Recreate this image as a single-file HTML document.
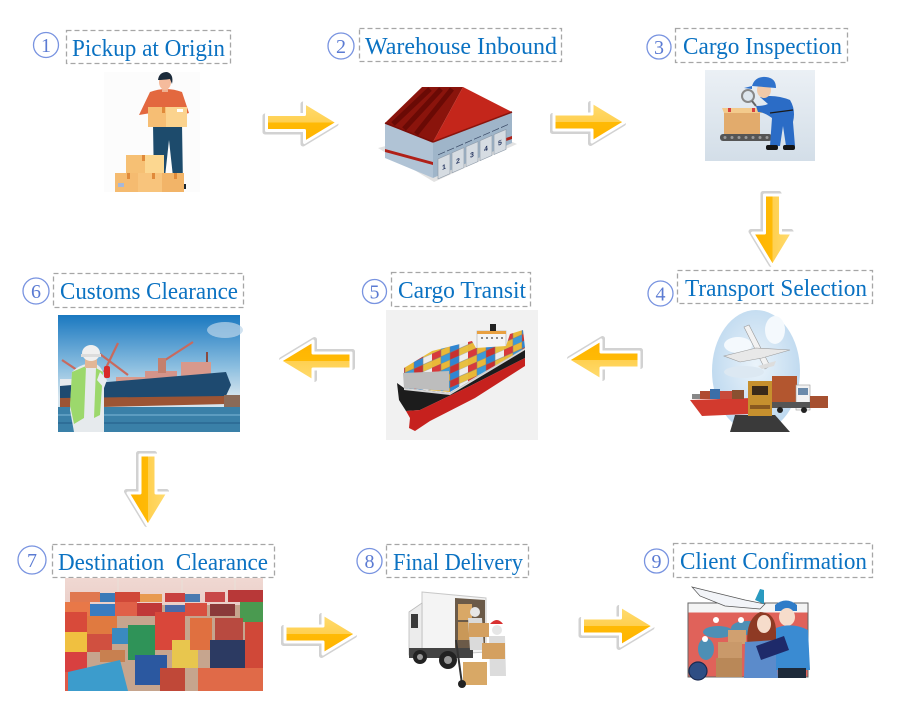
<!DOCTYPE html>
<html><head><meta charset="utf-8"><style>
html,body{margin:0;padding:0;background:#fff;}
svg{display:block;}
.t{font-family:"Liberation Serif",serif;font-size:24px;fill:#0B72C2;}
.n{font-family:"Liberation Serif",serif;font-size:20px;fill:#5B7BD3;text-anchor:middle;}
.c{fill:none;stroke:#7893E0;stroke-width:1.3;}
.b{fill:none;stroke:#A6A6A6;stroke-width:1.3;stroke-dasharray:5 3;}
.dn{font-family:"Liberation Sans",sans-serif;font-size:7px;font-weight:bold;fill:#1E2E5A;text-anchor:middle;}
</style></head><body>
<svg width="900" height="709" viewBox="0 0 900 709" xmlns="http://www.w3.org/2000/svg">
<defs>
<linearGradient id="ag" x1="0" y1="0" x2="0" y2="1">
<stop offset="0" stop-color="#FFDC72"/><stop offset="0.5" stop-color="#FFD050"/><stop offset="0.5" stop-color="#FFBA05"/><stop offset="1" stop-color="#FFB300"/>
</linearGradient>
<linearGradient id="insp" x1="0" y1="0" x2="0" y2="1"><stop offset="0" stop-color="#EBF0F5"/><stop offset="1" stop-color="#D3DEE8"/></linearGradient>
<linearGradient id="sky6" x1="0" y1="0" x2="0" y2="1"><stop offset="0" stop-color="#1A78C0"/><stop offset="0.45" stop-color="#8DBFE0"/><stop offset="0.7" stop-color="#D6E5EE"/></linearGradient>
<linearGradient id="sky7" x1="0" y1="0" x2="0" y2="1"><stop offset="0" stop-color="#F0D8D2"/><stop offset="1" stop-color="#D8B2AC"/></linearGradient>
<radialGradient id="globe" cx="0.5" cy="0.45" r="0.6"><stop offset="0" stop-color="#EAF3FA"/><stop offset="1" stop-color="#B9D6EE"/></radialGradient>
<pattern id="cont" width="36" height="14" patternUnits="userSpaceOnUse" patternTransform="skewY(-24)">
<rect x="0" y="0" width="9" height="7" fill="#D8393B"/><rect x="9" y="0" width="9" height="7" fill="#E9B838"/><rect x="18" y="0" width="9" height="7" fill="#2F86D2"/><rect x="27" y="0" width="9" height="7" fill="#EDEDED"/>
<rect x="0" y="7" width="9" height="7" fill="#E9B838"/><rect x="9" y="7" width="9" height="7" fill="#3B9AD8"/><rect x="18" y="7" width="9" height="7" fill="#C83030"/><rect x="27" y="7" width="9" height="7" fill="#E8C040"/>
<path d="M0,0 H36 M0,7 H36 M9,0 V14 M18,0 V14 M27,0 V14" stroke="#7A7A7A" stroke-width="0.5"/>
</pattern>
<g id="arr">
<path d="M-35,-8 L3,-8 L3,-20 L36,0 L3,20 L3,8 L-35,8 Z" fill="#D2D2D2" stroke="#D2D2D2" stroke-width="5" stroke-linejoin="round" transform="translate(-1.5,1.5)"/>
<path d="M-35,-8 L3,-8 L3,-20 L36,0 L3,20 L3,8 L-35,8 Z" fill="url(#ag)" stroke="#fff" stroke-width="3" stroke-linejoin="round"/>
</g>
</defs>
<rect width="900" height="709" fill="#fff"/>

<!-- ===== Titles ===== -->
<circle class="c" cx="46" cy="45" r="12.5"/><text class="n" x="46" y="52">1</text>
<rect class="b" x="66.5" y="30.5" width="164" height="33"/>
<text class="t" x="72" y="56" textLength="153" lengthAdjust="spacingAndGlyphs">Pickup at Origin</text>

<circle class="c" cx="341" cy="46" r="13"/><text class="n" x="341" y="53">2</text>
<rect class="b" x="359.5" y="28.5" width="202" height="33"/>
<text class="t" x="365" y="54" textLength="192" lengthAdjust="spacingAndGlyphs">Warehouse Inbound</text>

<circle class="c" cx="659" cy="47" r="12"/><text class="n" x="659" y="54">3</text>
<rect class="b" x="675.5" y="28.5" width="172" height="34"/>
<text class="t" x="683" y="54" textLength="159" lengthAdjust="spacingAndGlyphs">Cargo Inspection</text>

<circle class="c" cx="660.5" cy="293.5" r="12.5"/><text class="n" x="660.5" y="300.5">4</text>
<rect class="b" x="677.5" y="270.5" width="195" height="33"/>
<text class="t" x="685" y="296" textLength="182" lengthAdjust="spacingAndGlyphs">Transport Selection</text>

<circle class="c" cx="374.5" cy="291.5" r="12"/><text class="n" x="374.5" y="298.5">5</text>
<rect class="b" x="391.5" y="272.5" width="139" height="34"/>
<text class="t" x="398" y="298" textLength="128" lengthAdjust="spacingAndGlyphs">Cargo Transit</text>

<circle class="c" cx="36" cy="291" r="13"/><text class="n" x="36" y="298">6</text>
<rect class="b" x="53.5" y="273.5" width="190" height="34"/>
<text class="t" x="60" y="299" textLength="178" lengthAdjust="spacingAndGlyphs">Customs Clearance</text>

<circle class="c" cx="32" cy="560" r="14"/><text class="n" x="32" y="567">7</text>
<rect class="b" x="52.5" y="544.5" width="222" height="33"/>
<text class="t" x="58" y="570" textLength="210" lengthAdjust="spacingAndGlyphs" xml:space="preserve">Destination  Clearance</text>

<circle class="c" cx="369.5" cy="561" r="12.5"/><text class="n" x="369.5" y="568">8</text>
<rect class="b" x="386.5" y="544.5" width="142" height="33"/>
<text class="t" x="393" y="570" textLength="130" lengthAdjust="spacingAndGlyphs">Final Delivery</text>

<circle class="c" cx="656.5" cy="561" r="12"/><text class="n" x="656.5" y="568">9</text>
<rect class="b" x="673.5" y="543.5" width="199" height="34"/>
<text class="t" x="680" y="569" textLength="187" lengthAdjust="spacingAndGlyphs">Client Confirmation</text>

<!-- ===== Arrows ===== -->
<use href="#arr" transform="translate(301.5,122.5)"/>
<use href="#arr" transform="translate(589,122)"/>
<use href="#arr" transform="translate(772.5,230) rotate(90)"/>
<use href="#arr" transform="translate(604,360) rotate(180)"/>
<use href="#arr" transform="translate(316,361) rotate(180)"/>
<use href="#arr" transform="translate(148,490) rotate(90)"/>
<use href="#arr" transform="translate(320,634)"/>
<use href="#arr" transform="translate(617.5,626)"/>

<!-- ===== 1 Pickup image ===== -->
<g>
<rect x="104" y="72" width="96" height="120" fill="#FCFCFC"/>
<path d="M153,124 L182,124 L183,186 L174,186 L169,140 L164,186 L154,186 Z" fill="#1D4B6C"/>
<path d="M173,184 L186,184 L186,189 L173,189 Z" fill="#1A2630"/>
<path d="M150,92 Q166,86 182,92 L189,113 L182,115 L181,127 L152,127 L151,113 L139,115 Z" fill="#E3683F"/>
<rect x="162" y="86" width="6" height="6" fill="#EFAF90"/>
<ellipse cx="165" cy="82" rx="6" ry="8" fill="#F5BB9C"/>
<path d="M158,80 Q159,72 167,72 Q174,74 172,84 L170,79 Q163,80 158,80Z" fill="#1C2B3B"/>
<rect x="148" y="107" width="39" height="20" fill="#F6BE74"/>
<rect x="166" y="107" width="21" height="20" fill="#FBD38E"/>
<rect x="162" y="107" width="3" height="6" fill="#E08A3A"/>
<rect x="177" y="109" width="6" height="3" fill="#fff"/>
<rect x="126" y="155" width="38" height="18" fill="#F6C074"/>
<rect x="145" y="155" width="19" height="18" fill="#FCD790"/>
<rect x="142" y="155" width="3" height="6" fill="#E08A3A"/>
<rect x="115" y="173" width="23" height="19" fill="#F5BB70"/>
<rect x="138" y="173" width="24" height="19" fill="#F8C47C"/>
<rect x="162" y="173" width="22" height="19" fill="#F2B468"/>
<rect x="127" y="173" width="3" height="6" fill="#E08A3A"/>
<rect x="152" y="173" width="3" height="6" fill="#E08A3A"/>
<rect x="174" y="173" width="3" height="6" fill="#E08A3A"/>
<rect x="118" y="183" width="6" height="4" fill="#A8B8D8"/>
</g>

<!-- ===== 2 Warehouse ===== -->
<g>
<polygon points="378,148 434,182 517,144 470,124" fill="#E2E2E2"/>
<polygon points="385,123 433,142 433,178 385,158" fill="#B0C3D5"/>
<polygon points="433,142 512,111 512,143 433,178" fill="#9FB5C9"/>
<polygon points="385,149 433,162 433,165 385,152" fill="#B02018"/>
<polygon points="500,140 512,136 512,139 500,143" fill="#B02018"/>
<g transform="matrix(1,-0.434,0,1,0,0)">
<rect x="438" y="349" width="12" height="20" fill="#D6DCE2" stroke="#8C98A6" stroke-width="0.6"/>
<rect x="452" y="349" width="12" height="20" fill="#D6DCE2" stroke="#8C98A6" stroke-width="0.6"/>
<rect x="466" y="349" width="12" height="20" fill="#D6DCE2" stroke="#8C98A6" stroke-width="0.6"/>
<rect x="480" y="349" width="12" height="20" fill="#D6DCE2" stroke="#8C98A6" stroke-width="0.6"/>
<rect x="494" y="349" width="12" height="20" fill="#D6DCE2" stroke="#8C98A6" stroke-width="0.6"/>
<text class="dn" x="444" y="362">1</text><text class="dn" x="458" y="362">2</text><text class="dn" x="472" y="362">3</text><text class="dn" x="486" y="362">4</text><text class="dn" x="500" y="362">5</text>
<line x1="438" y1="345" x2="508" y2="345" stroke="#3A4A66" stroke-width="0.8" stroke-dasharray="7 2"/>
</g>
<polygon points="422,87 463,87 433,142 385,123" fill="#8A140C"/>
<g stroke="#6A0A05" stroke-width="5">
<line x1="430" y1="89" x2="393" y2="124"/>
<line x1="441" y1="89" x2="404" y2="129"/>
<line x1="452" y1="89" x2="416" y2="134"/>
</g>
<polygon points="463,87 512,112 433,142" fill="#C4261B"/>
<line x1="385" y1="123" x2="433" y2="142" stroke="#7A0E08" stroke-width="1.5"/>
<line x1="433" y1="142" x2="512" y2="112" stroke="#8A140C" stroke-width="1.5"/>
</g>

<!-- ===== 3 Inspection ===== -->
<g>
<rect x="705" y="70" width="110" height="91" fill="url(#insp)"/>
<rect x="720" y="134" width="52" height="7" rx="3" fill="#555"/>
<g fill="#999"><circle cx="725" cy="137.5" r="1.5"/><circle cx="732" cy="137.5" r="1.5"/><circle cx="739" cy="137.5" r="1.5"/><circle cx="746" cy="137.5" r="1.5"/><circle cx="753" cy="137.5" r="1.5"/><circle cx="760" cy="137.5" r="1.5"/><circle cx="767" cy="137.5" r="1.5"/></g>
<rect x="724" y="112" width="36" height="22" fill="#E2AB6C"/>
<polygon points="722,108 760,108 762,113 724,113" fill="#F3CA8C"/>
<rect x="728" y="108" width="3" height="4" fill="#D84040"/><rect x="752" y="108" width="3" height="4" fill="#D84040"/>
<path d="M760,97 Q775,94 790,100 Q796,110 793,122 L795,146 L786,146 L783,126 L780,146 L770,146 L772,118 Q764,112 758,112 L756,106 Q764,106 768,104 Z" fill="#2B6CC6"/>
<rect x="766" y="145" width="12" height="5" rx="2" fill="#151515"/><rect x="783" y="145" width="12" height="5" rx="2" fill="#151515"/>
<line x1="770" y1="113" x2="793" y2="110" stroke="#1A1A1A" stroke-width="1.2"/>
<ellipse cx="764" cy="90" rx="7" ry="8" fill="#F1C9A8"/>
<path d="M752,86 Q755,76 766,77 Q776,78 776,88 Z" fill="#2F72CC"/>
<path d="M752,86 L744,88 L752,89 Z" fill="#2F72CC"/>
<circle cx="748" cy="96" r="6" fill="#DDE6EE" stroke="#888" stroke-width="2"/>
<line x1="752" y1="101" x2="756" y2="106" stroke="#666" stroke-width="2"/>
</g>

<!-- ===== 4 Transport Selection ===== -->
<g>
<ellipse cx="756" cy="371" rx="44" ry="61" fill="url(#globe)"/>
<ellipse cx="738" cy="345" rx="14" ry="8" fill="#F4F9FD"/>
<ellipse cx="775" cy="330" rx="10" ry="14" fill="#F4F9FD"/>
<ellipse cx="744" cy="372" rx="20" ry="6" fill="#DCE8F2"/>
<polygon points="744,327 749,325 770,366 765,369" fill="#F2F2F2" stroke="#9A9A9A" stroke-width="0.6"/>
<polygon points="724,356 756,348 790,350 762,358 740,362" fill="#E8E8E8" stroke="#9A9A9A" stroke-width="0.6"/>
<polygon points="758,366 776,361 774,366 762,369" fill="#DDD"/>
<polygon points="735,415 775,415 790,432 730,432" fill="#3A3A3A"/>
<polygon points="690,400 752,398 748,414 702,416" fill="#D23A2E"/>
<rect x="700" y="391" width="10" height="8" fill="#B04A30"/><rect x="710" y="389" width="10" height="10" fill="#3A6EA8"/><rect x="720" y="391" width="12" height="8" fill="#C84A3A"/><rect x="732" y="390" width="12" height="9" fill="#8A5030"/>
<rect x="692" y="394" width="8" height="5" fill="#888"/>
<rect x="748" y="381" width="24" height="35" fill="#C6902E"/>
<rect x="752" y="386" width="16" height="9" fill="#3A2A1A"/>
<rect x="750" y="405" width="20" height="4" fill="#8A5A20"/>
<rect x="772" y="376" width="25" height="26" fill="#B3562F"/>
<rect x="796" y="385" width="14" height="25" fill="#F2F2F2" stroke="#999" stroke-width="0.6"/>
<rect x="798" y="388" width="10" height="7" fill="#6A8AAA"/>
<rect x="772" y="402" width="38" height="6" fill="#555"/>
<rect x="810" y="396" width="18" height="12" fill="#A65030"/>
<circle cx="780" cy="410" r="3" fill="#222"/><circle cx="804" cy="410" r="3" fill="#222"/>
</g>

<!-- ===== 5 Cargo Transit ===== -->
<g>
<rect x="386" y="310" width="152" height="130" fill="#F1F1F1"/>
<rect x="477" y="331" width="29" height="18" fill="#F4F4F4" stroke="#AAA" stroke-width="0.6"/>
<rect x="477" y="331" width="29" height="3" fill="#E8A040"/>
<rect x="490" y="324" width="6" height="7" fill="#222"/>
<g fill="#888"><rect x="481" y="337" width="2" height="2"/><rect x="486" y="337" width="2" height="2"/><rect x="491" y="337" width="2" height="2"/><rect x="496" y="337" width="2" height="2"/><rect x="501" y="337" width="2" height="2"/></g>
<polygon points="404,368 432,351 472,341 476,348 506,346 510,334 523,330 525,348 450,392 404,388" fill="url(#cont)"/>
<polygon points="403,373 449,371 449,391 404,388" fill="#BDBDBD"/>
<polygon points="397,383 404,388 450,393 525,348 525,358 470,386 420,410 406,411 399,400" fill="#1C1C1C"/>
<polygon points="406,411 420,410 470,386 525,358 525,366 475,398 430,421 415,431 409,428 410,418" fill="#C6211E"/>
<polygon points="404,388 450,393 525,348 525,350 450,395 404,390" fill="#D8D8D8"/>
</g>

<!-- ===== 6 Customs photo ===== -->
<g>
<rect x="58" y="315" width="182" height="117" fill="url(#sky6)"/>
<ellipse cx="225" cy="330" rx="18" ry="8" fill="#BCD6EA" opacity="0.7"/>
<g stroke="#C86A5E" stroke-width="2.2" fill="none">
<line x1="100" y1="354" x2="128" y2="375"/><line x1="118" y1="343" x2="104" y2="372"/>
<line x1="159" y1="364" x2="193" y2="342"/><line x1="62" y1="360" x2="80" y2="372"/>
</g>
<line x1="207" y1="352" x2="207" y2="373" stroke="#8A4A40" stroke-width="2"/>
<rect x="60" y="379" width="18" height="14" fill="#E6EAEE"/>
<rect x="116" y="377" width="30" height="9" fill="#D99A8C"/>
<rect x="145" y="371" width="32" height="12" fill="#D4948A"/>
<rect x="181" y="362" width="30" height="15" fill="#D8998C"/>
<rect x="158" y="358" width="8" height="15" fill="#C4806E"/>
<polygon points="60,386 226,372 231,385 224,400 60,404" fill="#1E4A70"/>
<polygon points="60,398 225,396 226,404 60,408" fill="#9C5434"/>
<rect x="224" y="395" width="16" height="13" fill="#8A6A58"/>
<rect x="58" y="407" width="182" height="25" fill="#3A80A8"/>
<rect x="58" y="414" width="182" height="2" fill="#5C9CC0"/>
<rect x="58" y="422" width="182" height="2" fill="#2E6E98"/>
<path d="M72,372 Q82,362 96,364 Q104,368 104,380 L104,432 L74,432 L70,410 Z" fill="#E6EAED"/>
<polygon points="72,372 86,366 84,418 74,424 70,405" fill="#9CD86C"/>
<polygon points="96,368 103,372 100,415 94,418" fill="#9CD86C"/>
<rect x="85" y="358" width="12" height="10" fill="#E2B696"/>
<ellipse cx="91" cy="353" rx="9" ry="8" fill="#F0F0F0"/>
<rect x="81" y="354" width="20" height="3" fill="#DCDCDC"/>
<polygon points="100,372 107,380 104,388 97,380" fill="#E8ECEF"/>
<rect x="104" y="366" width="6" height="12" rx="2" fill="#D82A2A"/>
</g>

<!-- ===== 7 Destination containers ===== -->
<g>
<rect x="65" y="578" width="198" height="113" fill="url(#sky7)"/>
<rect x="65" y="605" width="198" height="86" fill="#C6A58E"/>
<g stroke="#E8E0D8" stroke-width="1"><line x1="118" y1="578" x2="118" y2="600"/><line x1="182" y1="580" x2="182" y2="600"/><line x1="235" y1="578" x2="235" y2="596"/></g>
<rect x="70" y="592" width="30" height="10" fill="#E07850"/><rect x="100" y="593" width="15" height="9" fill="#3A7AB8"/><rect x="115" y="592" width="25" height="10" fill="#D04838"/><rect x="140" y="594" width="22" height="8" fill="#E89A50"/><rect x="165" y="593" width="20" height="9" fill="#C84040"/><rect x="185" y="594" width="15" height="8" fill="#4A7AB0"/><rect x="205" y="592" width="20" height="10" fill="#C84848"/><rect x="228" y="590" width="35" height="12" fill="#B83838"/>
<rect x="65" y="602" width="25" height="14" fill="#E87848"/><rect x="90" y="604" width="25" height="14" fill="#3A7CC0"/><rect x="115" y="602" width="22" height="14" fill="#E06048"/><rect x="137" y="603" width="25" height="13" fill="#C03838"/><rect x="165" y="605" width="20" height="12" fill="#4A6AA8"/><rect x="185" y="603" width="22" height="13" fill="#D85040"/><rect x="210" y="604" width="25" height="12" fill="#8A3A3A"/>
<rect x="65" y="612" width="22" height="20" fill="#D84A3A"/><rect x="65" y="632" width="22" height="20" fill="#F0C040"/><rect x="65" y="652" width="22" height="20" fill="#D84040"/><rect x="65" y="672" width="22" height="19" fill="#E05A48"/>
<rect x="87" y="616" width="30" height="18" fill="#E07A40"/><rect x="87" y="634" width="25" height="18" fill="#D05040"/><rect x="112" y="628" width="22" height="16" fill="#3A8AC0"/><rect x="100" y="650" width="25" height="12" fill="#C88050"/>
<polygon points="68,672 120,660 128,691 68,691" fill="#3C9CCC"/>
<rect x="128" y="625" width="27" height="35" fill="#2F9358"/>
<rect x="155" y="612" width="30" height="38" fill="#D9473A"/>
<rect x="172" y="640" width="26" height="28" fill="#E8C64E"/>
<rect x="135" y="655" width="32" height="30" fill="#2B58A0"/>
<rect x="160" y="668" width="25" height="23" fill="#C04838"/>
<rect x="190" y="618" width="22" height="32" fill="#E07040"/>
<rect x="210" y="640" width="45" height="28" fill="#2C3A62"/>
<rect x="198" y="668" width="65" height="23" fill="#E06A48"/>
<rect x="240" y="602" width="23" height="20" fill="#4A9A50"/>
<rect x="245" y="622" width="18" height="46" fill="#D04838"/>
<rect x="215" y="618" width="28" height="22" fill="#B84A40"/>
</g>

<!-- ===== 8 Final delivery ===== -->
<g>
<polygon points="422,592 486,598 486,652 422,656" fill="#F4F4F4" stroke="#C8C8C8" stroke-width="1"/>
<polygon points="455,598 485,600 485,648 455,650" fill="#6B5A48"/>
<rect x="458" y="604" width="14" height="16" fill="#D9A866"/><rect x="458" y="622" width="14" height="18" fill="#C99858"/>
<polygon points="409,612 422,603 422,655 409,655" fill="#ECECEC" stroke="#BBB" stroke-width="0.8"/>
<rect x="411" y="614" width="7" height="14" fill="#3A3A3A"/>
<rect x="409" y="648" width="64" height="10" fill="#444"/>
<circle cx="420" cy="657" r="7" fill="#222"/><circle cx="420" cy="657" r="3" fill="#999"/>
<circle cx="448" cy="660" r="9" fill="#222"/><circle cx="448" cy="660" r="4" fill="#999"/>
<circle cx="475" cy="612" r="5" fill="#E6E6E6"/>
<path d="M468,618 L482,618 L484,650 L470,650 Z" fill="#DADADA"/>
<rect x="469" y="623" width="20" height="14" fill="#D4A060"/>
<circle cx="497" cy="630" r="5" fill="#E6E6E6"/>
<path d="M490,624 Q497,616 503,624 Z" fill="#D83030"/>
<path d="M489,636 L505,636 L506,676 L490,676 Z" fill="#DCDCDC"/>
<rect x="482" y="643" width="23" height="16" fill="#D4A060"/>
<line x1="456" y1="640" x2="462" y2="684" stroke="#333" stroke-width="2"/>
<rect x="463" y="662" width="24" height="23" fill="#D8A866"/>
<circle cx="462" cy="684" r="4" fill="#222"/>
</g>

<!-- ===== 9 Client confirmation ===== -->
<g>
<rect x="688" y="603" width="120" height="74" fill="#E0625A" stroke="#666" stroke-width="1"/>
<rect x="688.5" y="603.5" width="119" height="9" fill="#F4F4F4"/>
<ellipse cx="718" cy="632" rx="15" ry="6" fill="#4D8FB5"/>
<ellipse cx="706" cy="649" rx="8" ry="11" fill="#4D8FB5"/>
<ellipse cx="747" cy="628" rx="16" ry="7" fill="#4D8FB5"/>
<circle cx="716" cy="620" r="3" fill="#fff"/><circle cx="741" cy="620" r="3" fill="#fff"/><circle cx="705" cy="639" r="3" fill="#fff"/>
<polygon points="692,587 745,600 765,604 760,609 725,606 700,596" fill="#F2F4F8" stroke="#555" stroke-width="0.7"/>
<polygon points="755,600 760,589 764,590 764,604" fill="#2A9AC0"/>
<circle cx="698" cy="671" r="9" fill="#2E4E84" stroke="#1A2A50" stroke-width="1.2"/>
<rect x="728" y="630" width="18" height="14" fill="#D0A070"/>
<rect x="718" y="642" width="24" height="18" fill="#C9996A"/>
<rect x="716" y="658" width="26" height="19" fill="#B98858"/>
<path d="M748,650 Q744,620 760,612 Q776,612 776,632 L776,650 Z" fill="#8E3A24"/>
<ellipse cx="764" cy="624" rx="7" ry="9" fill="#F6DCCB"/>
<path d="M745,642 L776,640 L778,678 L744,678 Z" fill="#5B8BCB"/>
<path d="M775,605 Q786,596 797,605 L797,611 L775,611 Z" fill="#2F7CC8"/>
<ellipse cx="787" cy="617" rx="8" ry="9" fill="#F6DCCB"/>
<path d="M776,628 Q792,622 808,630 L810,670 L776,670 Z" fill="#3A8BD2"/>
<rect x="778" y="668" width="28" height="10" fill="#1E2A3A"/>
<polygon points="756,646 784,636 789,650 761,660" fill="#1E2A6A"/>
</g>

</svg>
</body></html>
